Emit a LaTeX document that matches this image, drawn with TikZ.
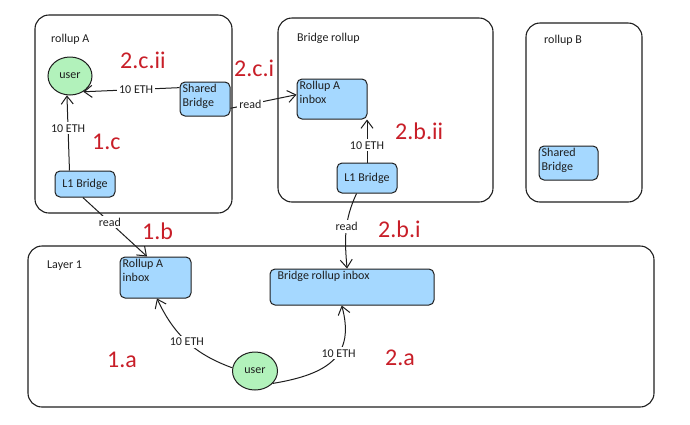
\documentclass[tikz,border=0pt]{standalone}
\usepackage{fontspec}
\setmainfont{Carlito}
\usetikzlibrary{shapes.geometric,arrows.meta}
\definecolor{ink}{HTML}{1E1E1E}
\definecolor{bfill}{HTML}{A5D8FF}
\definecolor{gfill}{HTML}{B2F2BB}
\definecolor{redlab}{RGB}{200,30,40}
\begin{document}
\begin{tikzpicture}[x=1pt,y=-1pt,
  container/.style={draw=ink, line width=1.1pt, rounded corners=14pt, inner sep=0pt},
  bluebox/.style={draw=ink, fill=bfill, line width=1pt, rounded corners=5pt, inner sep=0pt},
  userell/.style={ellipse, draw=ink, fill=gfill, line width=1pt, inner sep=0pt, font=\fontsize{12}{14}\selectfont, text=ink},
  hand/.style={font=\fontsize{12}{14}\selectfont, text=ink, inner sep=1pt},
  boxtext/.style={hand, align=left, anchor=north west, inner xsep=3pt, inner ysep=2.5pt},
  steplab/.style={font=\fontsize{24}{24}\selectfont, text=redlab, inner sep=0pt, anchor=base west},
  conn/.style={draw=ink, line width=1pt, -{Straight Barb[length=8pt,width=12pt,line width=1pt]}},
  onl/.style={hand, fill=white, inner sep=2pt}]
\useasboundingbox (0,0) rectangle (690,424);

% containers
\node[container, minimum width=197, minimum height=198] (rA) at (133.5,114) {};
\node[container, minimum width=215, minimum height=184] (rBr) at (385.5,110) {};
\node[container, minimum width=116, minimum height=179] (rB) at (584,112.5) {};
\node[container, minimum width=626, minimum height=161] (L1) at (341,326.5) {};

\node[hand, anchor=west] (tA) at (50,39) {rollup A};
\node[hand, anchor=west] (tBr) at (296,38) {Bridge rollup};
\node[hand, anchor=west] (tB) at (543,40) {rollup B};
\node[hand, anchor=west] (tL1) at (46,266) {Layer 1};

% rollup A
\node[userell, minimum width=44, minimum height=38] (uA) at (70,76) {user};
\node[bluebox, minimum width=50, minimum height=34,
  label={[boxtext]north west:{Shared\\Bridge}}] (sbA) at (205,99) {};
\node[bluebox, minimum width=60, minimum height=26, hand] (l1A) at (85,184) {L1 Bridge};

% bridge rollup
\node[bluebox, minimum width=70, minimum height=40,
  label={[boxtext]north west:{Rollup A\\inbox}}] (ibB) at (332,99) {};
\node[bluebox, minimum width=60, minimum height=30, hand] (l1B) at (367,178) {L1 Bridge};

% rollup B
\node[bluebox, minimum width=59, minimum height=34,
  label={[boxtext]north west:{Shared\\Bridge}}] (sbB) at (568.5,163) {};

% layer 1
\node[bluebox, minimum width=71, minimum height=41,
  label={[boxtext]north west:{Rollup A\\inbox}}] (ibL) at (155.5,277.5) {};
\node[bluebox, minimum width=164, minimum height=36,
  label={[boxtext, inner xsep=8pt]north west:{Bridge rollup inbox}}] (brI) at (352,287) {};
\node[userell, minimum width=45, minimum height=38] (uL) at (255,371) {user};

% connectors
\draw[conn] (sbA.156) -- node[onl, pos=0.45]{10 ETH} (uA.-50);
\draw[conn] (l1A.139) -- node[onl, pos=0.56]{10 ETH} (uA.-99);
\draw[conn] (sbA.-20) -- node[onl, pos=0.3]{read} (ibB.173);
\draw[conn] (l1B.north) -- node[onl, pos=0.4]{10 ETH} (l1B.north |- ibB.south);
\draw[conn] (l1A.-99) -- node[onl, pos=0.42]{read} (ibL.112);
\draw[conn] (l1B.-124) to[out=-115,in=95] node[onl, pos=0.45]{read} (brI.105);
\draw[conn] (uL.172) to[out=160,in=-65] node[onl]{10 ETH} (ibL.-86);
\draw[conn] (uL.-35) .. controls (330,374) and (355,355) .. node[onl, pos=0.58]{10 ETH} (brI.-119);

% step labels
\node[steplab] (s2cii) at (120,68) {2.c.ii};
\node[steplab] (s2ci) at (234,76) {2.c.i};
\node[steplab] (s1c) at (92,149) {1.c};
\node[steplab] (s2bii) at (395,139) {2.b.ii};
\node[steplab] (s1b) at (142,239) {1.b};
\node[steplab] (s2bi) at (378,237) {2.b.i};
\node[steplab] (s1a) at (107,367) {1.a};
\node[steplab] (s2a) at (385,365) {2.a};
\end{tikzpicture}
\end{document}
